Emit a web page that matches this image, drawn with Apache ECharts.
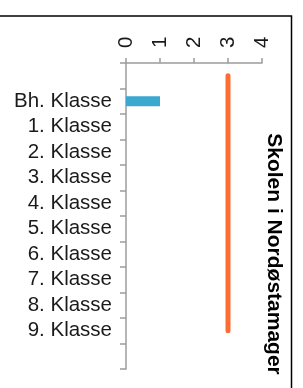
<!DOCTYPE html>
<html>
<head>
    <meta charset="utf-8">
    <title>Skolen i Nordøstamager</title>
    <script src="https://cdn.jsdelivr.net/npm/echarts@6/dist/echarts.min.js"></script>
    <style>
        html, body { margin: 0; padding: 0; background: #fff; }
    </style>
</head>
<body>
    <div id="main" style="width: 303px;height:388px;"></div>
    <script type="text/javascript">
        var chartDom = document.getElementById('main');
        var myChart = echarts.init(chartDom);
        var option;

        // empty slots at top and bottom, as in the picture
        var categories = ['', 'Bh. Klasse', '1. Klasse', '2. Klasse', '3. Klasse', '4. Klasse',
            '5. Klasse', '6. Klasse', '7. Klasse', '8. Klasse', '9. Klasse', ''];
        var barValues = [null, 1, null, null, null, null, null, null, null, null, null, null];
        var lineValues = [3, 3, 3, 3, 3, 3, 3, 3, 3, 3, 3, null];
        var valueTicks = [0, 1, 2, 3, 4];
        var titleText = 'Skolen i Nordøstamager';

        var font = '"Liberation Sans", Arial, Helvetica, sans-serif';
        var axisGrey = '#9c9c9c';

        option = {
            animation: false,
            textStyle: { fontFamily: font },
            grid: {
                left: 126,
                right: 41,
                top: 63,
                bottom: 19,
                containLabel: false
            },
            xAxis: {
                type: 'value',
                position: 'top',
                min: valueTicks[0],
                max: valueTicks[valueTicks.length - 1],
                interval: 1,
                splitLine: { show: false },
                axisLine: { show: true, lineStyle: { color: axisGrey, width: 1.5 } },
                axisTick: { show: true, length: 5, lineStyle: { color: axisGrey, width: 1.5 } },
                axisLabel: {
                    rotate: -90,
                    margin: 15,
                    fontSize: 20.5,
                    color: '#1a1a1a',
                    fontFamily: font
                }
            },
            yAxis: {
                type: 'category',
                inverse: true,
                data: categories,
                axisLine: { show: true, lineStyle: { color: axisGrey, width: 1.5 } },
                axisTick: { show: true, length: 6, interval: 0, lineStyle: { color: axisGrey, width: 1.5 } },
                axisLabel: {
                    interval: 0,
                    margin: 14,
                    fontSize: 20.5,
                    color: '#1a1a1a',
                    fontFamily: font
                }
            },
            graphic: [{
                type: 'rect',
                shape: { x: -10, y: 16, width: 301.5, height: 400 },
                style: { fill: null, stroke: '#000', lineWidth: 1.5 },
                z: -10
            }, {
                type: 'text',
                x: 274,
                y: 254,
                rotation: -Math.PI / 2,
                style: {
                    text: titleText,
                    fontSize: 21,
                    fontWeight: 'bold',
                    fontFamily: font,
                    fill: '#000',
                    textAlign: 'center',
                    textVerticalAlign: 'middle'
                }
            }],
            series: [{
                type: 'bar',
                data: barValues,
                barWidth: 10,
                itemStyle: { color: '#3aa8cf' }
            }, {
                type: 'line',
                data: lineValues,
                symbol: 'none',
                lineStyle: { color: '#ff6d33', width: 5, cap: 'round' },
                z: 5
            }]
        };

        option && myChart.setOption(option);
    </script>
</body>
</html>
